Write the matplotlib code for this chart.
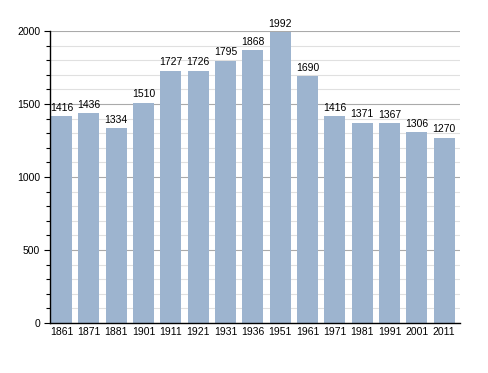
import matplotlib.pyplot as plt
from matplotlib.ticker import MultipleLocator

years = ["1861", "1871", "1881", "1901", "1911", "1921", "1931", "1936",
         "1951", "1961", "1971", "1981", "1991", "2001", "2011"]
population = [1416, 1436, 1334, 1510, 1727, 1726, 1795, 1868,
              1992, 1690, 1416, 1371, 1367, 1306, 1270]

plt.rcParams['font.family'] = ['Liberation Sans', 'DejaVu Sans']

fig = plt.figure(figsize=(4.88, 3.73), dpi=100)
ax = fig.add_axes([50/488, 50/373, 410/488, 292/373])

x = [i + 0.04 for i in range(len(years))]
bars = ax.bar(x, population, width=0.76, align='edge', color='#9db4cf', zorder=2)

# value labels above bars
for b, v in zip(bars, population):
    ax.text(b.get_x() + b.get_width()/2, v + 25, str(v), ha='center', va='bottom',
            fontsize=7.5, clip_on=False)

ax.set_xlim(0, len(years))
ax.set_ylim(0, 2000)
ax.set_xticks([xi + 0.38 for xi in x])
ax.set_xticklabels(years, fontsize=7.5)
ax.tick_params(axis='x', length=0, pad=3)

ax.yaxis.set_major_locator(MultipleLocator(500))
ax.yaxis.set_minor_locator(MultipleLocator(100))
ax.tick_params(axis='y', which='major', length=4, width=0.8, labelsize=7.5, pad=3)
ax.tick_params(axis='y', which='minor', length=3, width=0.8)

ax.grid(axis='y', which='major', color='#aaaaaa', linewidth=0.8, zorder=0)
ax.grid(axis='y', which='minor', color='#e0e0e0', linewidth=0.8, zorder=0)
ax.set_axisbelow(True)

for s in ['top', 'right']:
    ax.spines[s].set_visible(False)
ax.spines['left'].set_linewidth(1)
ax.spines['bottom'].set_linewidth(1)

fig.savefig("out.png", dpi=100)
